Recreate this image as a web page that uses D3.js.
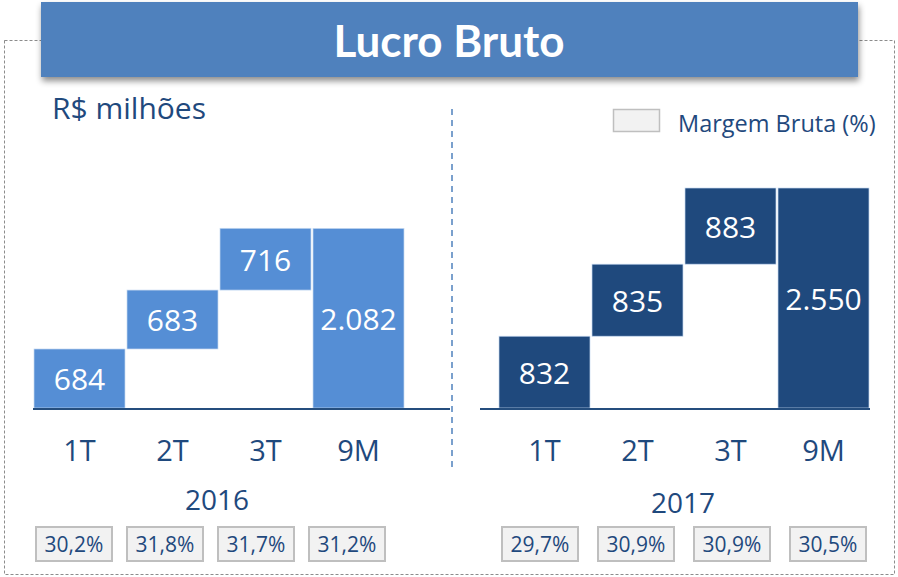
<!DOCTYPE html>
<html>
<head>
<meta charset="utf-8">
<script src="https://cdn.jsdelivr.net/npm/d3@7"></script>
<style>
  body { margin: 0; background: #fff; }
  text { font-family: "Open Sans", "Noto Sans", sans-serif; }
</style>
</head>
<body>
<div id="chart"></div>
<script>
// data
var categories = ["1T", "2T", "3T", "9M"];
var years = ["2016", "2017"];
var values2016 = [684, 683, 716, 2082];
var values2017 = [832, 835, 883, 2550];
var labels2016 = ["684", "683", "716", "2.082"];
var labels2017 = ["832", "835", "883", "2.550"];
var margins2016 = ["30,2%", "31,8%", "31,7%", "31,2%"];
var margins2017 = ["29,7%", "30,9%", "30,9%", "30,5%"];

var width = 898, height = 577;
var dark = "#1f497d";

var svg = d3.select("#chart")
  .append("svg")
    .attr("width", width)
    .attr("height", height);

var defs = svg.append("defs");
var shadow = defs.append("filter").attr("id", "shadow")
  .attr("x", "-5%").attr("y", "-20%").attr("width", "110%").attr("height", "160%");
shadow.append("feDropShadow")
  .attr("dx", 1).attr("dy", 4).attr("stdDeviation", 3)
  .attr("flood-color", "#000").attr("flood-opacity", 0.45);

// outer dashed frame
svg.append("rect")
  .attr("x", 4.5).attr("y", 40.5)
  .attr("width", 890).attr("height", 534)
  .attr("fill", "none")
  .attr("stroke", "#8c8c8c")
  .attr("stroke-dasharray", "3,2");

// title bar
svg.append("rect")
  .attr("x", 41).attr("y", 2)
  .attr("width", 817).attr("height", 75)
  .attr("fill", "#4f81bd")
  .attr("filter", "url(#shadow)");
svg.append("text")
  .attr("x", 449).attr("y", 57)
  .attr("text-anchor", "middle")
  .attr("fill", "#fff")
  .style("font-family", "Lato, 'Open Sans', sans-serif")
  .style("font-size", "44px")
  .style("font-weight", "bold")
  .text("Lucro Bruto");

svg.append("text")
  .attr("x", 52).attr("y", 119)
  .attr("fill", dark)
  .style("font-size", "30px")
  .text("R$ milhões");

// legend
svg.append("rect")
  .attr("x", 613.5).attr("y", 109.5)
  .attr("width", 46).attr("height", 22)
  .attr("fill", "#f2f2f2")
  .attr("stroke", "#bfbfbf")
  .attr("stroke-width", 1.5);
svg.append("text")
  .attr("x", 678).attr("y", 132)
  .attr("fill", dark)
  .style("font-size", "23.5px")
  .text("Margem Bruta (%)");

// divider
svg.append("line")
  .attr("x1", 452).attr("x2", 452)
  .attr("y1", 109).attr("y2", 467)
  .attr("stroke", "#4f81bd")
  .attr("stroke-width", 1.5)
  .attr("stroke-dasharray", "6,5");

var y = d3.scaleLinear()
  .domain([0, 2550])
  .range([408, 188]);

var groups = [
  {year: years[0], values: values2016, labels: labels2016, margins: margins2016,
   range: [34, 404], boxRange: [74, 347], color: "#558ed5", axis: [33, 450], yearY: 510},
  {year: years[1], values: values2017, labels: labels2017, margins: margins2017,
   range: [499, 869], boxRange: [540, 828], color: "#1f497d", axis: [480, 870], yearY: 513}
];

groups.forEach(function(g) {
  var x = d3.scaleBand()
    .domain(categories)
    .range(g.range)
    .paddingInner(0.0215)
    .paddingOuter(0);

  // the margin boxes sit on their own spacing
  var xBox = d3.scalePoint()
    .domain(categories)
    .range(g.boxRange);

  // waterfall bases
  var bars = g.values.map(function(v, i) {
    var base = 0;
    if (i < 3) for (var k = 0; k < i; k++) base += g.values[k];
    return {cat: categories[i], base: base, top: base + v, label: g.labels[i], margin: g.margins[i]};
  });

  var grp = svg.append("g");

  grp.selectAll("rect.bar")
    .data(bars)
    .enter()
    .append("rect")
      .attr("class", "bar")
      .attr("x", function(d) { return x(d.cat); })
      .attr("width", x.bandwidth())
      .attr("y", function(d) { return y(d.top); })
      .attr("height", function(d) { return y(d.base) - y(d.top); })
      .attr("fill", g.color)
      .attr("stroke", "#c6d9f1")
      .attr("stroke-width", 0.7);

  grp.selectAll("text.val")
    .data(bars)
    .enter()
    .append("text")
      .attr("class", "val")
      .attr("x", function(d) { return x(d.cat) + x.bandwidth() / 2; })
      .attr("y", function(d) { return (y(d.top) + y(d.base)) / 2 + 11.5; })
      .attr("text-anchor", "middle")
      .attr("fill", "#fff")
      .style("font-size", "30px")
      .text(function(d) { return d.label; });

  // baseline
  grp.append("line")
    .attr("x1", g.axis[0]).attr("x2", g.axis[1])
    .attr("y1", 409).attr("y2", 409)
    .attr("stroke", "#254e7e")
    .attr("stroke-width", 2);

  // category labels
  var xAxis = d3.axisBottom(x).tickSize(0).tickPadding(0);
  var ax = grp.append("g")
    .attr("transform", "translate(0,461)")
    .call(xAxis);
  ax.select(".domain").remove();
  ax.selectAll("text")
    .attr("dy", 0)
    .attr("fill", dark)
    .style("font-size", "29px")
    .style("font-family", "'Open Sans', 'Noto Sans', sans-serif");

  grp.append("text")
    .attr("x", (g.range[0] + g.range[1]) / 2 + (g.year === "2016" ? -2 : -1))
    .attr("y", g.yearY)
    .attr("text-anchor", "middle")
    .attr("fill", dark)
    .style("font-size", "28px")
    .text(g.year);

  // margin boxes
  grp.selectAll("rect.mb")
    .data(bars)
    .enter()
    .append("rect")
      .attr("class", "mb")
      .attr("x", function(d) { return xBox(d.cat) - 38; })
      .attr("y", 527)
      .attr("width", 76)
      .attr("height", 34)
      .attr("fill", "#f2f2f2")
      .attr("stroke", "#bfbfbf")
      .attr("stroke-width", 2);

  grp.selectAll("text.mt")
    .data(bars)
    .enter()
    .append("text")
      .attr("class", "mt")
      .attr("x", function(d) { return xBox(d.cat); })
      .attr("y", 552)
      .attr("text-anchor", "middle")
      .attr("fill", dark)
      .style("font-size", "21px")
      .text(function(d) { return d.margin; });
});
</script>
</body>
</html>
